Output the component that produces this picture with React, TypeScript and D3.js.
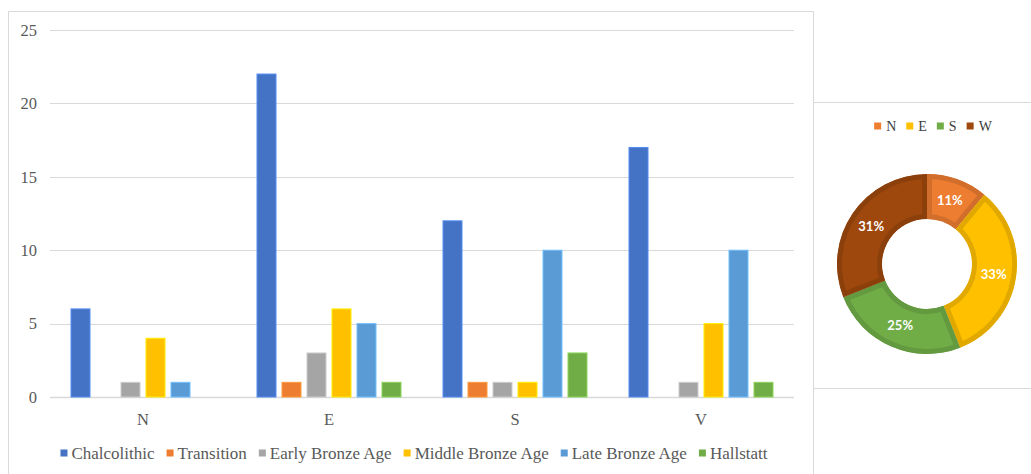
import React, { useEffect, useRef } from "react";
import * as d3 from "d3";

const categories = ["N", "E", "S", "V"];
const seriesNames = [
  "Chalcolithic",
  "Transition",
  "Early Bronze Age",
  "Middle Bronze Age",
  "Late Bronze Age",
  "Hallstatt",
];
const chalcolithic = [6, 22, 12, 17];
const transition = [0, 1, 1, 0];
const earlyBronze = [1, 3, 1, 1];
const middleBronze = [4, 6, 1, 5];
const lateBronze = [1, 5, 10, 10];
const hallstatt = [0, 1, 3, 1];
const seriesColors = ["#4472C4", "#ED7D31", "#A5A5A5", "#FFC000", "#5B9BD5", "#70AD47"];
const yTicks = [0, 5, 10, 15, 20, 25];

const donutLabels = ["N", "E", "S", "W"];
const donutValues = [11, 33, 25, 31];
const donutColors = ["#ED7D31", "#FFC000", "#70AD47", "#9E480E"];

const W = 1031;
const H = 474;
const SERIF = "'Liberation Serif', 'Times New Roman', serif";
const GRID = "#D9D9D9";
const TEXT = "#595959";

export default function App() {
  const ref = useRef<SVGSVGElement | null>(null);

  useEffect(() => {
    const svg = d3.select(ref.current);
    svg.selectAll("*").remove();

    const seriesValues = [chalcolithic, transition, earlyBronze, middleBronze, lateBronze, hallstatt];

    // frames
    const frame = svg.append("g").attr("stroke", GRID).attr("stroke-width", 1).attr("fill", "none");
    frame.append("path").attr("d", `M8.5,${H} V11.5 H813.5 V${H}`);
    frame.append("path").attr("d", `M813.5,102.5 H${W}`);
    frame.append("path").attr("d", `M813.5,388.5 H${W}`);

    // scales
    const x0 = d3.scaleBand<string>().domain(categories).range([50, 794]).padding(0);
    const bw = x0.bandwidth();
    const x1 = d3
      .scaleBand<string>()
      .domain(seriesNames)
      .range([bw / 2 - 75, bw / 2 + 75])
      .paddingInner(0.24)
      .paddingOuter(0.12);
    const y = d3.scaleLinear().domain([0, 25]).range([397, 30]);

    // gridlines
    const grid = svg.append("g");
    yTicks.forEach((t) => {
      grid
        .append("line")
        .attr("x1", 50)
        .attr("x2", 794)
        .attr("y1", Math.round(y(t)) + 0.5)
        .attr("y2", Math.round(y(t)) + 0.5)
        .attr("stroke", GRID)
        .attr("stroke-width", t === 0 ? 1.5 : 1);
      grid
        .append("text")
        .attr("x", 37)
        .attr("y", y(t))
        .attr("dy", "0.35em")
        .attr("text-anchor", "end")
        .attr("font-family", SERIF)
        .attr("font-size", 16.5)
        .attr("fill", TEXT)
        .text(String(t));
    });

    // bars
    const bars = svg.append("g");
    categories.forEach((c, ci) => {
      seriesNames.forEach((s, si) => {
        const v = seriesValues[si][ci];
        if (!v) return;
        const col = seriesColors[si];
        bars
          .append("rect")
          .attr("x", (x0(c) as number) + (x1(s) as number))
          .attr("y", y(v))
          .attr("width", x1.bandwidth())
          .attr("height", y(0) - y(v))
          .attr("fill", col)
          .attr("stroke", d3.color(col)!.brighter(0.6).formatHex())
          .attr("stroke-width", 1);
      });
      svg
        .append("text")
        .attr("x", (x0(c) as number) + bw / 2)
        .attr("y", 419)
        .attr("dy", "0.35em")
        .attr("text-anchor", "middle")
        .attr("font-family", SERIF)
        .attr("font-size", 16.5)
        .attr("fill", TEXT)
        .text(c);
    });

    // bar legend
    const leg = svg.append("g");
    const items: { g: any; w: number }[] = [];
    seriesNames.forEach((s, i) => {
      const g = leg.append("g");
      g.append("rect").attr("x", 0).attr("y", -3.5).attr("width", 7).attr("height", 7).attr("fill", seriesColors[i]);
      const t = g
        .append("text")
        .attr("x", 11)
        .attr("y", 0)
        .attr("dy", "0.35em")
        .attr("font-family", SERIF)
        .attr("font-size", 17)
        .attr("fill", TEXT)
        .text(s);
      const tw = (t.node() as SVGTextElement).getComputedTextLength();
      items.push({ g, w: 11 + tw });
    });
    const gap = 12;
    const total = d3.sum(items, (d) => d.w) + gap * (items.length - 1);
    let cx = 414 - total / 2;
    items.forEach((it) => {
      it.g.attr("transform", `translate(${cx},453)`);
      cx += it.w + gap;
    });

    // donut
    const dcx = 927;
    const dcy = 264;
    const rOut = 90;
    const rIn = 45;
    const pie = d3.pie<number>().sort(null).value((d) => d)(donutValues);
    const arc = d3.arc<d3.PieArcDatum<number>>().innerRadius(rIn).outerRadius(rOut);
    const defs = svg.append("defs");
    const dg = svg.append("g").attr("transform", `translate(${dcx},${dcy})`);
    pie.forEach((p, i) => {
      const id = `slice-clip-${i}`;
      defs.append("clipPath").attr("id", id).append("path").attr("d", arc(p) as string);
      dg.append("path")
        .attr("d", arc(p) as string)
        .attr("fill", donutColors[i])
        .attr("stroke", d3.color(donutColors[i])!.darker(0.35).formatHex())
        .attr("stroke-width", 10)
        .attr("clip-path", `url(#${id})`);
    });
    pie.forEach((p, i) => {
      const [lx, ly] = arc.centroid(p);
      dg.append("text")
        .attr("x", lx)
        .attr("y", ly)
        .attr("dy", "0.35em")
        .attr("text-anchor", "middle")
        .attr("font-family", "Lato, 'Open Sans', sans-serif")
        .attr("font-weight", "bold")
        .attr("font-size", 13)
        .attr("fill", "#FFFFFF")
        .text(`${donutValues[i]}%`);
    });

    // donut legend
    const dleg = svg.append("g");
    const ditems: { g: any; w: number }[] = [];
    donutLabels.forEach((s, i) => {
      const g = dleg.append("g");
      g.append("rect").attr("x", 0).attr("y", -3.5).attr("width", 7).attr("height", 7).attr("fill", donutColors[i]);
      const t = g
        .append("text")
        .attr("x", 12)
        .attr("y", 0)
        .attr("dy", "0.35em")
        .attr("font-family", SERIF)
        .attr("font-size", 14)
        .attr("fill", "#404040")
        .text(s);
      const tw = (t.node() as SVGTextElement).getComputedTextLength();
      ditems.push({ g, w: 12 + tw });
    });
    const dgap = 10;
    const dtotal = d3.sum(ditems, (d) => d.w) + dgap * (ditems.length - 1);
    let dx = 933 - dtotal / 2;
    ditems.forEach((it) => {
      it.g.attr("transform", `translate(${dx},126)`);
      dx += it.w + dgap;
    });
  }, []);

  return (
    <svg
      ref={ref}
      width={W}
      height={H}
      style={{ position: "absolute", left: 0, top: 0, background: "#FFFFFF", display: "block" }}
    />
  );
}
